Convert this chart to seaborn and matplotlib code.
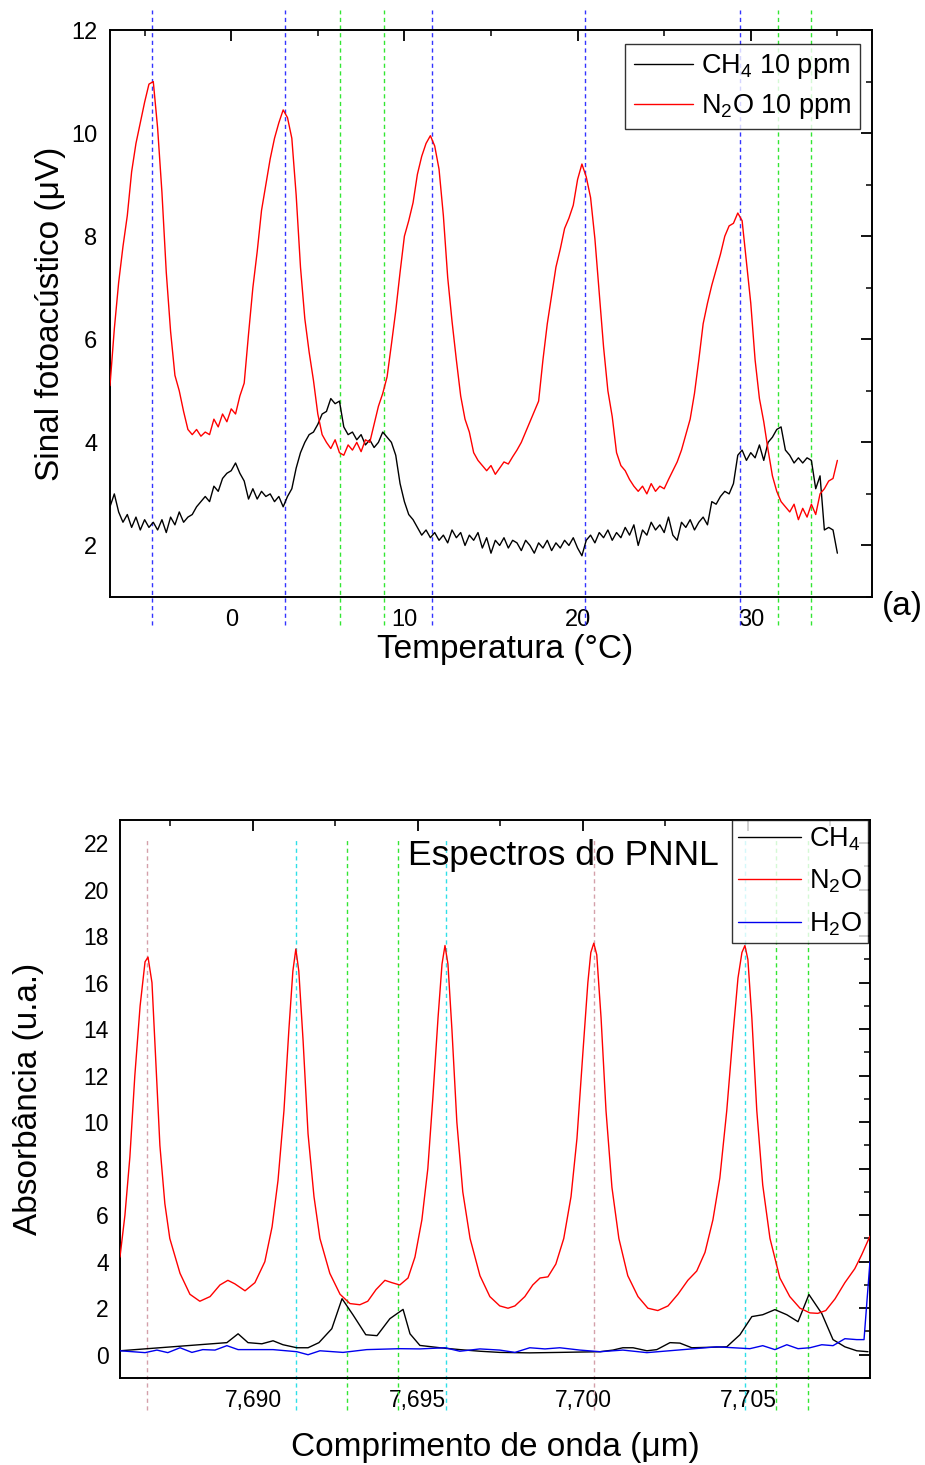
import numpy as np
import matplotlib
matplotlib.use("Agg")
import matplotlib.pyplot as plt
from matplotlib.ticker import MultipleLocator, FuncFormatter
import seaborn as sns

# ---------------- (a) photoacoustic signal vs temperature ----------------
temp_start = -7.0
temp_step = 0.25

n2o_signal = [
    5.10, 6.20, 7.10, 7.80,
    8.40, 9.25, 9.80, 10.20,
    10.60, 10.95, 11.00, 10.10,
    8.85, 7.30, 6.15, 5.30,
    5.00, 4.60, 4.25, 4.15,
    4.25, 4.12, 4.20, 4.15,
    4.45, 4.30, 4.55, 4.40,
    4.65, 4.55, 4.90, 5.15,
    6.10, 7.00, 7.70, 8.50,
    9.00, 9.50, 9.90, 10.20,
    10.45, 10.30, 9.90, 8.80,
    7.40, 6.40, 5.75, 5.20,
    4.55, 4.15, 4.00, 3.88,
    4.05, 3.80, 3.75, 3.95,
    3.85, 4.00, 3.82, 4.05,
    4.00, 4.35, 4.70, 4.95,
    5.27, 5.90, 6.55, 7.30,
    8.00, 8.30, 8.65, 9.20,
    9.55, 9.80, 9.95, 9.75,
    9.30, 8.40, 7.20, 6.35,
    5.60, 4.90, 4.45, 4.20,
    3.80, 3.65, 3.55, 3.45,
    3.55, 3.38, 3.50, 3.62,
    3.58, 3.72, 3.85, 4.00,
    4.20, 4.40, 4.60, 4.80,
    5.60, 6.30, 6.85, 7.40,
    7.75, 8.15, 8.35, 8.60,
    9.10, 9.40, 9.15, 8.75,
    7.95, 6.90, 5.85, 5.00,
    4.50, 3.80, 3.55, 3.45,
    3.28, 3.15, 3.05, 3.15,
    3.00, 3.20, 3.05, 3.15,
    3.10, 3.28, 3.45, 3.62,
    3.85, 4.15, 4.45, 4.95,
    5.60, 6.30, 6.70, 7.05,
    7.35, 7.65, 8.00, 8.20,
    8.25, 8.45, 8.30, 7.50,
    6.70, 5.60, 4.85, 4.40,
    3.85, 3.35, 3.05, 2.85,
    2.75, 2.65, 2.80, 2.50,
    2.72, 2.55, 2.80, 2.60,
    3.00, 3.10, 3.25, 3.30,
    3.65,
]

ch4_signal = [
    2.75, 3.00, 2.65, 2.45,
    2.60, 2.35, 2.55, 2.30,
    2.50, 2.35, 2.45, 2.30,
    2.50, 2.25, 2.55, 2.40,
    2.65, 2.45, 2.55, 2.60,
    2.75, 2.85, 2.95, 2.85,
    3.15, 3.05, 3.30, 3.40,
    3.45, 3.60, 3.40, 3.25,
    2.90, 3.10, 2.90, 3.05,
    2.95, 3.00, 2.85, 2.95,
    2.75, 2.95, 3.10, 3.50,
    3.80, 4.00, 4.15, 4.20,
    4.35, 4.55, 4.60, 4.85,
    4.75, 4.80, 4.30, 4.15,
    4.20, 4.05, 4.15, 3.95,
    4.05, 3.90, 4.00, 4.20,
    4.10, 4.00, 3.75, 3.20,
    2.85, 2.60, 2.50, 2.35,
    2.20, 2.30, 2.15, 2.25,
    2.10, 2.20, 2.05, 2.30,
    2.15, 2.25, 2.00, 2.20,
    2.10, 2.25, 1.95, 2.15,
    1.85, 2.10, 2.00, 2.15,
    1.95, 2.10, 2.05, 1.90,
    2.10, 2.00, 1.85, 2.05,
    1.95, 2.10, 1.90, 2.05,
    1.95, 2.10, 2.00, 2.15,
    1.95, 1.80, 2.10, 2.20,
    2.05, 2.25, 2.15, 2.30,
    2.10, 2.25, 2.15, 2.35,
    2.20, 2.40, 2.00, 2.30,
    2.20, 2.45, 2.30, 2.40,
    2.25, 2.55, 2.20, 2.10,
    2.45, 2.35, 2.50, 2.30,
    2.45, 2.55, 2.40, 2.85,
    2.80, 2.95, 3.05, 3.00,
    3.20, 3.75, 3.85, 3.65,
    3.80, 3.70, 3.95, 3.65,
    4.00, 4.10, 4.25, 4.30,
    3.85, 3.75, 3.60, 3.70,
    3.60, 3.70, 3.65, 3.10,
    3.35, 2.30, 2.35, 2.30,
    1.85,
]

temperature = temp_start + temp_step * np.arange(len(n2o_signal))

temp_lines_blue = [-4.6, 3.1, 11.6, 20.4, 29.4]
temp_lines_green = [6.3, 8.85, 31.6, 33.5]

# ---------------- PNNL reference spectra ----------------
wl_n2o = [
    7.68597, 7.68612, 7.68627, 7.68642, 7.68658, 7.68673, 7.68682, 7.68694,
    7.68706, 7.68718, 7.68733, 7.68748, 7.68779, 7.68809, 7.68839, 7.68870,
    7.68900, 7.68924, 7.68945, 7.68976, 7.69006, 7.69036, 7.69058, 7.69076,
    7.69094, 7.69109, 7.69121, 7.69130, 7.69139, 7.69152, 7.69167, 7.69185,
    7.69203, 7.69233, 7.69264, 7.69294, 7.69324, 7.69348, 7.69373, 7.69400,
    7.69421, 7.69445, 7.69470, 7.69491, 7.69512, 7.69530, 7.69545, 7.69561,
    7.69573, 7.69582, 7.69591, 7.69603, 7.69618, 7.69636, 7.69658, 7.69688,
    7.69718, 7.69748, 7.69773, 7.69794, 7.69824, 7.69848, 7.69870, 7.69894,
    7.69918, 7.69942, 7.69964, 7.69982, 7.70000, 7.70015, 7.70024, 7.70033,
    7.70042, 7.70055, 7.70070, 7.70088, 7.70109, 7.70136, 7.70167, 7.70197,
    7.70227, 7.70258, 7.70288, 7.70318, 7.70345, 7.70370, 7.70394, 7.70415,
    7.70436, 7.70455, 7.70470, 7.70482, 7.70491, 7.70500, 7.70512, 7.70527,
    7.70545, 7.70567, 7.70597, 7.70627, 7.70658, 7.70688, 7.70712, 7.70736,
    7.70764, 7.70794, 7.70824, 7.70845, 7.70870,
]
abs_n2o = [
    4.2, 6.0, 8.5, 12.0, 15.0, 16.9, 17.1, 16.0,
    12.5, 9.0, 6.5, 5.0, 3.5, 2.6, 2.3, 2.5,
    3.0, 3.2, 3.05, 2.75, 3.1, 4.0, 5.5, 7.5,
    10.5, 14.0, 16.5, 17.45, 16.5, 13.5, 9.5, 6.8,
    5.0, 3.5, 2.6, 2.2, 2.15, 2.3, 2.8, 3.2,
    3.1, 3.0, 3.3, 4.2, 5.8, 8.0, 11.0, 14.5,
    16.8, 17.6, 16.8, 14.0, 10.0, 7.0, 5.0, 3.4,
    2.5, 2.1, 2.0, 2.1, 2.5, 3.0, 3.3, 3.35,
    3.9, 5.0, 6.8, 9.3, 13.0, 16.0, 17.3, 17.7,
    17.2, 14.5, 10.5, 7.2, 5.0, 3.4, 2.5, 2.0,
    1.9, 2.1, 2.6, 3.2, 3.6, 4.4, 5.8, 7.6,
    10.5, 13.8, 16.2, 17.3, 17.6, 17.0, 14.5, 10.5,
    7.3, 5.0, 3.3, 2.5, 2.0, 1.8, 1.78, 1.9,
    2.4, 3.1, 3.7, 4.3, 5.1,
]

wl_ch4 = [
    7.68597, 7.68921, 7.68955, 7.68985, 7.69027, 7.69061, 7.69091, 7.69133,
    7.69167, 7.69200, 7.69239, 7.69270, 7.69303, 7.69342, 7.69376, 7.69415,
    7.69455, 7.69476, 7.69506, 7.69567, 7.69627, 7.69688, 7.69748, 7.69839,
    7.69930, 7.70052, 7.70091, 7.70121, 7.70152, 7.70194, 7.70224, 7.70264,
    7.70294, 7.70330, 7.70436, 7.70476, 7.70512, 7.70545, 7.70582, 7.70618,
    7.70652, 7.70685, 7.70724, 7.70758, 7.70794, 7.70830, 7.70864,
]
abs_ch4 = [
    0.17, 0.52, 0.90, 0.52, 0.47, 0.60, 0.43, 0.30,
    0.30, 0.52, 1.12, 2.41, 1.72, 0.86, 0.82, 1.55,
    1.95, 0.90, 0.40, 0.30, 0.22, 0.15, 0.10, 0.08,
    0.10, 0.13, 0.20, 0.30, 0.30, 0.17, 0.22, 0.52,
    0.50, 0.30, 0.34, 0.86, 1.64, 1.72, 1.94, 1.72,
    1.42, 2.59, 1.77, 0.65, 0.34, 0.17, 0.13,
]

wl_h2o = [
    7.68597, 7.68673, 7.68709, 7.68742, 7.68779, 7.68815, 7.68848, 7.68885,
    7.68921, 7.68955, 7.69061, 7.69133, 7.69167, 7.69203, 7.69273, 7.69345,
    7.69445, 7.69506, 7.69582, 7.69627, 7.69688, 7.69748, 7.69794, 7.69839,
    7.69885, 7.69930, 7.69991, 7.70052, 7.70121, 7.70194, 7.70406, 7.70506,
    7.70545, 7.70582, 7.70618, 7.70652, 7.70688, 7.70724, 7.70758, 7.70794,
    7.70830, 7.70852, 7.70870,
]
abs_h2o = [
    0.17, 0.09, 0.20, 0.09, 0.30, 0.10, 0.22, 0.20,
    0.39, 0.22, 0.22, 0.13, 0.00, 0.17, 0.10, 0.22,
    0.26, 0.25, 0.30, 0.15, 0.25, 0.20, 0.10, 0.30,
    0.25, 0.30, 0.20, 0.13, 0.20, 0.09, 0.34, 0.26,
    0.39, 0.22, 0.43, 0.26, 0.30, 0.43, 0.39, 0.69,
    0.65, 0.65, 4.00,
]

wl_lines_pink = [7.68679, 7.70033]
wl_lines_cyan = [7.69130, 7.69585, 7.70491]
wl_lines_green = [7.69285, 7.69439, 7.70585, 7.70682]

# ---------------- styling ----------------
sns.set_style("white")
plt.rcParams["font.family"] = ["Liberation Sans", "DejaVu Sans"]
plt.rcParams["mathtext.fontset"] = "custom"
plt.rcParams["mathtext.rm"] = "Liberation Sans"
plt.rcParams["mathtext.it"] = "Liberation Sans:italic"
plt.rcParams["axes.unicode_minus"] = False
plt.rcParams["text.color"] = "black"
plt.rcParams["axes.labelcolor"] = "black"
plt.rcParams["xtick.color"] = "black"
plt.rcParams["ytick.color"] = "black"

LABEL_FS = 24
TICK_FS = 17
LEG_FS = 19.5

fig = plt.figure(figsize=(9.25, 14.65), dpi=100)
ax1 = fig.add_axes([0.1189, 0.5925, 0.8238, 0.3870])
ax2 = fig.add_axes([0.1297, 0.0594, 0.8108, 0.3809])


def style_axes(ax, size, pad):
    for sp in ax.spines.values():
        sp.set_color("black")
        sp.set_linewidth(1.4)
    ax.tick_params(which="both", direction="in", top=True, right=True,
                   colors="black", labelcolor="black", labelsize=size, pad=pad)
    ax.tick_params(which="major", length=8, width=1.3)
    ax.tick_params(which="minor", length=4.5, width=1.1)


dash = (0, (3, 2.5))

# panel (a)
for t in temp_lines_blue:
    ax1.axvline(t, ymin=-0.05, ymax=1.035, color="#3434ff", lw=1.0,
                ls=dash, clip_on=False, zorder=1)
for t in temp_lines_green:
    ax1.axvline(t, ymin=-0.05, ymax=1.035, color="#33e633", lw=1.0,
                ls=dash, clip_on=False, zorder=1)

sns.lineplot(x=temperature, y=ch4_signal, ax=ax1, color="black", lw=1.0,
             label="CH$_4$ 10 ppm", sort=False, estimator=None, zorder=3)
sns.lineplot(x=temperature, y=n2o_signal, ax=ax1, color="red", lw=1.0,
             label="N$_2$O 10 ppm", sort=False, estimator=None, zorder=3)

ax1.set_xlim(-7, 37)
ax1.set_ylim(1, 12)
ax1.xaxis.set_major_locator(MultipleLocator(10))
ax1.xaxis.set_minor_locator(MultipleLocator(5))
ax1.yaxis.set_major_locator(MultipleLocator(2))
ax1.yaxis.set_minor_locator(MultipleLocator(1))
style_axes(ax1, TICK_FS, 9)
ax1.set_xlabel("Temperatura (°C)", fontsize=LABEL_FS)
ax1.xaxis.set_label_coords(0.518, -0.066)
ax1.set_ylabel("Sinal fotoacústico (μV)", fontsize=LABEL_FS, labelpad=4)
ax1.text(1.013, -0.016, "(a)", transform=ax1.transAxes, fontsize=LABEL_FS,
         ha="left", va="center")

leg1 = ax1.legend(loc="upper right", bbox_to_anchor=(0.984, 0.975),
                  borderaxespad=0, fontsize=LEG_FS, frameon=True,
                  fancybox=False, handlelength=2.2, handletextpad=0.3,
                  borderpad=0.3, labelspacing=0.4)
leg1.get_frame().set_edgecolor("black")
leg1.get_frame().set_linewidth(1.0)

# panel (b)
for w in wl_lines_pink:
    ax2.axvline(w, ymin=-0.057, ymax=0.968, color="#d4a0aa", lw=1.0,
                ls=dash, clip_on=False, zorder=1)
for w in wl_lines_cyan:
    ax2.axvline(w, ymin=-0.057, ymax=0.968, color="#30e0e8", lw=1.0,
                ls=dash, clip_on=False, zorder=1)
for w in wl_lines_green:
    ax2.axvline(w, ymin=-0.057, ymax=0.968, color="#33e633", lw=1.0,
                ls=dash, clip_on=False, zorder=1)

sns.lineplot(x=wl_ch4, y=abs_ch4, ax=ax2, color="black", lw=1.0,
             label="CH$_4$", sort=False, estimator=None, zorder=3)
sns.lineplot(x=wl_n2o, y=abs_n2o, ax=ax2, color="red", lw=1.0,
             label="N$_2$O", sort=False, estimator=None, zorder=3)
sns.lineplot(x=wl_h2o, y=abs_h2o, ax=ax2, color="#0000ee", lw=1.0,
             label="H$_2$O", sort=False, estimator=None, zorder=3)

ax2.set_xlim(7.68597, 7.70870)
ax2.set_ylim(-1, 23)
ax2.xaxis.set_major_locator(MultipleLocator(0.005))
ax2.xaxis.set_minor_locator(MultipleLocator(0.0025))
ax2.xaxis.set_major_formatter(FuncFormatter(lambda v, p: f"{v:.3f}".replace(".", ",")))
ax2.yaxis.set_major_locator(MultipleLocator(2))
ax2.yaxis.set_minor_locator(MultipleLocator(1))
style_axes(ax2, 16.5, 8)
ax2.set_xlabel("Comprimento de onda (μm)", fontsize=LABEL_FS, labelpad=14)
ax2.set_ylabel("Absorbância (u.a.)", fontsize=LABEL_FS, labelpad=28)
ax2.text(0.384, 0.937, "Espectros do PNNL", transform=ax2.transAxes,
         fontsize=25.5, ha="left", va="center")

leg2 = ax2.legend(loc="upper right", bbox_to_anchor=(0.997, 1.0),
                  borderaxespad=0, fontsize=LEG_FS, frameon=True,
                  fancybox=False, handlelength=2.35, handletextpad=0.3,
                  borderpad=0.2, labelspacing=0.55)
leg2.get_frame().set_edgecolor("black")
leg2.get_frame().set_linewidth(1.0)

fig.savefig("out.png", dpi=100, facecolor="white")
